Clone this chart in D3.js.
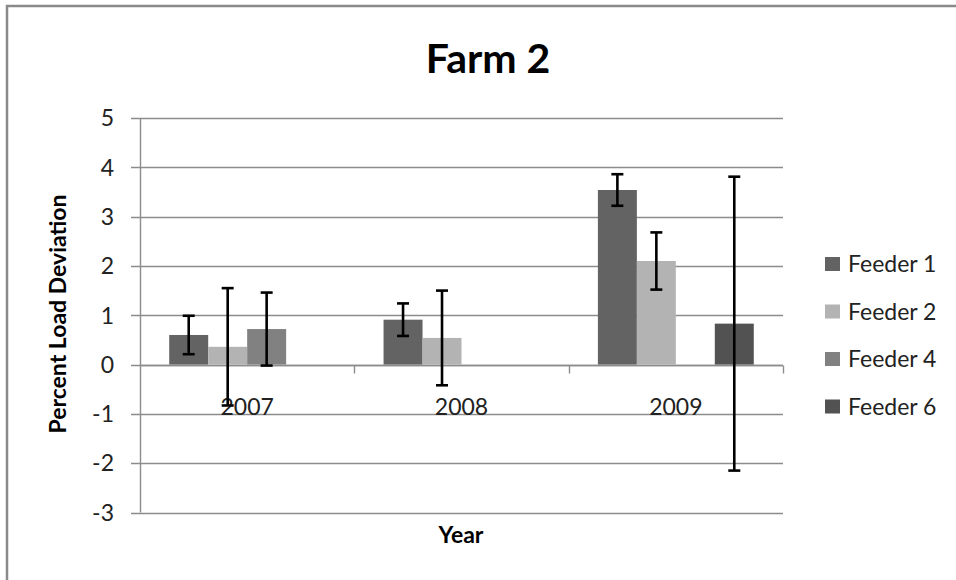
<!DOCTYPE html>
<html>
<head>
<meta charset="utf-8">
<script src="https://cdn.jsdelivr.net/npm/d3@7"></script>
<style>
  html, body { margin: 0; padding: 0; background: #fff; }
  svg { display: block; }
  text { font-family: Lato, "Open Sans", sans-serif; }
</style>
</head>
<body>
<svg id="chart" width="956" height="580"></svg>
<script>
// ---- data ----
const years = ["2007", "2008", "2009"];
const seriesNames = ["Feeder 1", "Feeder 2", "Feeder 4", "Feeder 6"];
const feeder1 = [0.60, 0.91, 3.54];
const feeder2 = [0.36, 0.54, 2.10];
const feeder4 = [0.72, null, null];
const feeder6 = [null, null, 0.83];
const err1 = [0.39, 0.33, 0.32];
const err2 = [1.19, 0.96, 0.58];
const err4 = [0.74, null, null];
const err6 = [null, null, 2.98];
const yTicks = [-3, -2, -1, 0, 1, 2, 3, 4, 5];
const colors = ["#636363", "#b3b3b3", "#818181", "#525252"];

const values = [feeder1, feeder2, feeder4, feeder6];
const errors = [err1, err2, err4, err6];

const svg = d3.select("#chart");

// chart border
svg.append("rect")
  .attr("x", 7).attr("y", 6)
  .attr("width", 1000).attr("height", 620)
  .attr("fill", "none").attr("stroke", "#8a8a8a").attr("stroke-width", 2.5);

const x = d3.scaleBand().domain(years).range([140, 783]).paddingInner(0).paddingOuter(0);
const y = d3.scaleLinear().domain([-3, 5]).range([512.5, 118]);

const bw = x.bandwidth() / 5.5;
const inner = d3.scaleBand().domain(seriesNames)
  .range([0.75 * bw, 4.75 * bw]).paddingInner(0).paddingOuter(0);

// gridlines
svg.append("g").selectAll("line").data(yTicks).join("line")
  .attr("x1", 131).attr("x2", 783)
  .attr("y1", d => Math.round(y(d)) + 0.5).attr("y2", d => Math.round(y(d)) + 0.5)
  .attr("stroke", "#8c8c8c").attr("stroke-width", 1.4);

// y axis line
svg.append("line")
  .attr("x1", 140.5).attr("x2", 140.5)
  .attr("y1", y(5)).attr("y2", y(-3))
  .attr("stroke", "#8c8c8c").attr("stroke-width", 1.4);

// y tick labels
svg.append("g").selectAll("text").data(yTicks).join("text")
  .attr("x", 114).attr("y", d => y(d))
  .attr("dy", "0.36em")
  .attr("text-anchor", "end")
  .attr("font-size", 23).attr("fill", "#222")
  .text(d => d);

// x axis (zero line) with ticks at category boundaries
const y0 = Math.round(y(0)) + 0.5;
svg.append("line")
  .attr("x1", 140).attr("x2", 783).attr("y1", y0).attr("y2", y0)
  .attr("stroke", "#8c8c8c").attr("stroke-width", 1.4);
const bounds = years.map(d => x(d) + x.bandwidth()).slice();
svg.append("g").selectAll("line").data(bounds).join("line")
  .attr("x1", d => Math.round(d) + 0.5).attr("x2", d => Math.round(d) + 0.5)
  .attr("y1", y0).attr("y2", y0 + 8)
  .attr("stroke", "#8c8c8c").attr("stroke-width", 1.4);

// bars
const barData = [];
seriesNames.forEach((s, i) => {
  years.forEach((yr, j) => {
    if (values[i][j] !== null) {
      barData.push({ s, i, yr, v: values[i][j], e: errors[i][j] });
    }
  });
});

svg.append("g").selectAll("rect").data(barData).join("rect")
  .attr("x", d => x(d.yr) + inner(d.s))
  .attr("width", bw)
  .attr("y", d => y(Math.max(0, d.v)))
  .attr("height", d => Math.abs(y(d.v) - y(0)))
  .attr("fill", d => colors[d.i]);

// category labels
svg.append("g").selectAll("text").data(years).join("text")
  .attr("x", d => x(d) + x.bandwidth() / 2)
  .attr("y", 415)
  .attr("text-anchor", "middle")
  .attr("font-size", 23).attr("fill", "#222")
  .text(d => d);

// error bars
const eb = svg.append("g").attr("stroke", "#000").attr("stroke-width", 2.6);
barData.filter(d => d.e !== null).forEach(d => {
  const cx = x(d.yr) + inner(d.s) + bw / 2;
  const top = y(d.v + d.e), bot = y(d.v - d.e);
  eb.append("line").attr("x1", cx).attr("x2", cx).attr("y1", top).attr("y2", bot);
  eb.append("line").attr("x1", cx - 6).attr("x2", cx + 6).attr("y1", top).attr("y2", top);
  eb.append("line").attr("x1", cx - 6).attr("x2", cx + 6).attr("y1", bot).attr("y2", bot);
});

// title
svg.append("text")
  .attr("x", 488).attr("y", 72.5)
  .attr("text-anchor", "middle")
  .attr("font-size", 41).attr("font-weight", "bold").attr("fill", "#000")
  .text("Farm 2");

// axis titles
svg.append("text")
  .attr("transform", "translate(66,314) rotate(-90)")
  .attr("text-anchor", "middle")
  .attr("font-size", 23).attr("font-weight", "bold").attr("fill", "#000")
  .text("Percent Load Deviation");

svg.append("text")
  .attr("x", 461).attr("y", 543)
  .attr("text-anchor", "middle")
  .attr("font-size", 23).attr("font-weight", "bold").attr("fill", "#000")
  .text("Year");

// legend
const legY = d3.scalePoint().domain(seriesNames).range([264, 406.5]);
const leg = svg.append("g").selectAll("g").data(seriesNames).join("g")
  .attr("transform", d => `translate(825,${legY(d)})`);
leg.append("rect")
  .attr("x", 0).attr("y", -7).attr("width", 15).attr("height", 14)
  .attr("fill", (d, i) => colors[i]);
leg.append("text")
  .attr("x", 23).attr("y", 0).attr("dy", "0.36em")
  .attr("font-size", 23).attr("fill", "#222")
  .text(d => d);
</script>
</body>
</html>
